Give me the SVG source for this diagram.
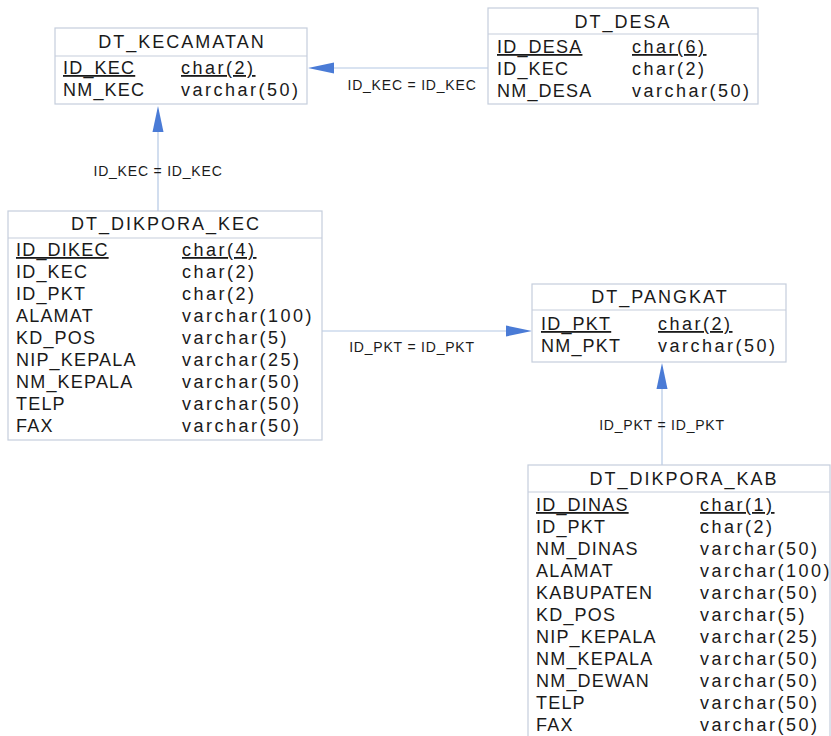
<svg xmlns="http://www.w3.org/2000/svg" width="831" height="736" viewBox="0 0 831 736">
  <style>
    .box { fill: #ffffff; stroke: #c5cedc; stroke-width: 1.2; }
    .sep { stroke: #c5cedc; stroke-width: 1.2; }
    .title { font-family: "Liberation Sans", Arial, sans-serif; font-size: 18px; fill: #1a1a1a; text-anchor: middle; letter-spacing: 2px; }
    .col { font-family: "Liberation Sans", Arial, sans-serif; font-size: 18px; fill: #1a1a1a; letter-spacing: 1.2px; }
    .typ { letter-spacing: 2.5px; }
    .pk { text-decoration: underline; }
    .rel { stroke: #b4c8e4; stroke-width: 1.2; fill: none; }
    .head { fill: #4a7bd6; }
    .lbl { font-family: "Liberation Sans", Arial, sans-serif; font-size: 14px; fill: #1a1a1a; text-anchor: middle; letter-spacing: 0.8px; }
  </style>

  <rect width="831" height="736" fill="#ffffff"/>

  <!-- relationships -->
  <g id="connectors">
    <g id="rel-desa-kecamatan">
      <line class="rel" x1="488" y1="68" x2="330" y2="68"/>
      <polygon class="head" points="308,68 334,62.5 334,73.5"/>
      <text class="lbl" x="412" y="90">ID_KEC = ID_KEC</text>
    </g>
    <g id="rel-dikporakec-kecamatan">
      <line class="rel" x1="158" y1="211" x2="158" y2="128"/>
      <polygon class="head" points="158,106 152.5,132 163.5,132"/>
      <text class="lbl" x="158" y="176">ID_KEC = ID_KEC</text>
    </g>
    <g id="rel-dikporakec-pangkat">
      <line class="rel" x1="322" y1="331" x2="510" y2="331"/>
      <polygon class="head" points="532,331 506,325.5 506,336.5"/>
      <text class="lbl" x="412" y="352">ID_PKT = ID_PKT</text>
    </g>
    <g id="rel-dikporakab-pangkat">
      <line class="rel" x1="662" y1="465" x2="662" y2="386"/>
      <polygon class="head" points="662,363 656.5,389 667.5,389"/>
      <text class="lbl" x="662" y="430">ID_PKT = ID_PKT</text>
    </g>
  </g>

  <!-- tables -->
  <g id="dt_kecamatan">
    <rect class="box" x="55" y="28" width="252" height="76"/>
    <line class="sep" x1="55" y1="56" x2="307" y2="56"/>
    <text class="title" x="182" y="48">DT_KECAMATAN</text>
    <text class="col pk" x="63" y="74">ID_KEC</text>
    <text class="col typ pk" x="181" y="74">char(2)</text>
    <text class="col" x="63" y="96">NM_KEC</text>
    <text class="col typ" x="181" y="96">varchar(50)</text>
  </g>

  <g id="dt_desa">
    <rect class="box" x="488" y="8" width="270" height="96"/>
    <line class="sep" x1="488" y1="34" x2="758" y2="34"/>
    <text class="title" x="623" y="28">DT_DESA</text>
    <text class="col pk" x="497" y="53">ID_DESA</text>
    <text class="col typ pk" x="632" y="53">char(6)</text>
    <text class="col" x="497" y="75">ID_KEC</text>
    <text class="col typ" x="632" y="75">char(2)</text>
    <text class="col" x="497" y="97">NM_DESA</text>
    <text class="col typ" x="632" y="97">varchar(50)</text>
  </g>

  <g id="dt_dikpora_kec">
    <rect class="box" x="8" y="211" width="314" height="229"/>
    <line class="sep" x1="8" y1="238" x2="322" y2="238"/>
    <text class="title" x="166" y="230">DT_DIKPORA_KEC</text>
    <text class="col pk" x="16" y="256">ID_DIKEC</text>
    <text class="col typ pk" x="182" y="256">char(4)</text>
    <text class="col" x="16" y="278">ID_KEC</text>
    <text class="col typ" x="182" y="278">char(2)</text>
    <text class="col" x="16" y="300">ID_PKT</text>
    <text class="col typ" x="182" y="300">char(2)</text>
    <text class="col" x="16" y="322">ALAMAT</text>
    <text class="col typ" x="182" y="322">varchar(100)</text>
    <text class="col" x="16" y="344">KD_POS</text>
    <text class="col typ" x="182" y="344">varchar(5)</text>
    <text class="col" x="16" y="366">NIP_KEPALA</text>
    <text class="col typ" x="182" y="366">varchar(25)</text>
    <text class="col" x="16" y="388">NM_KEPALA</text>
    <text class="col typ" x="182" y="388">varchar(50)</text>
    <text class="col" x="16" y="410">TELP</text>
    <text class="col typ" x="182" y="410">varchar(50)</text>
    <text class="col" x="16" y="432">FAX</text>
    <text class="col typ" x="182" y="432">varchar(50)</text>
  </g>

  <g id="dt_pangkat">
    <rect class="box" x="532" y="284" width="254" height="78"/>
    <line class="sep" x1="532" y1="310" x2="786" y2="310"/>
    <text class="title" x="660" y="303">DT_PANGKAT</text>
    <text class="col pk" x="541" y="330">ID_PKT</text>
    <text class="col typ pk" x="658" y="330">char(2)</text>
    <text class="col" x="541" y="352">NM_PKT</text>
    <text class="col typ" x="658" y="352">varchar(50)</text>
  </g>

  <g id="dt_dikpora_kab">
    <rect class="box" x="528" y="465" width="302" height="285"/>
    <line class="sep" x1="528" y1="492" x2="830" y2="492"/>
    <text class="title" x="684" y="485">DT_DIKPORA_KAB</text>
    <text class="col pk" x="536" y="511">ID_DINAS</text>
    <text class="col typ pk" x="700" y="511">char(1)</text>
    <text class="col" x="536" y="533">ID_PKT</text>
    <text class="col typ" x="700" y="533">char(2)</text>
    <text class="col" x="536" y="555">NM_DINAS</text>
    <text class="col typ" x="700" y="555">varchar(50)</text>
    <text class="col" x="536" y="577">ALAMAT</text>
    <text class="col typ" x="700" y="577">varchar(100)</text>
    <text class="col" x="536" y="599">KABUPATEN</text>
    <text class="col typ" x="700" y="599">varchar(50)</text>
    <text class="col" x="536" y="621">KD_POS</text>
    <text class="col typ" x="700" y="621">varchar(5)</text>
    <text class="col" x="536" y="643">NIP_KEPALA</text>
    <text class="col typ" x="700" y="643">varchar(25)</text>
    <text class="col" x="536" y="665">NM_KEPALA</text>
    <text class="col typ" x="700" y="665">varchar(50)</text>
    <text class="col" x="536" y="687">NM_DEWAN</text>
    <text class="col typ" x="700" y="687">varchar(50)</text>
    <text class="col" x="536" y="709">TELP</text>
    <text class="col typ" x="700" y="709">varchar(50)</text>
    <text class="col" x="536" y="731">FAX</text>
    <text class="col typ" x="700" y="731">varchar(50)</text>
  </g>
</svg>
